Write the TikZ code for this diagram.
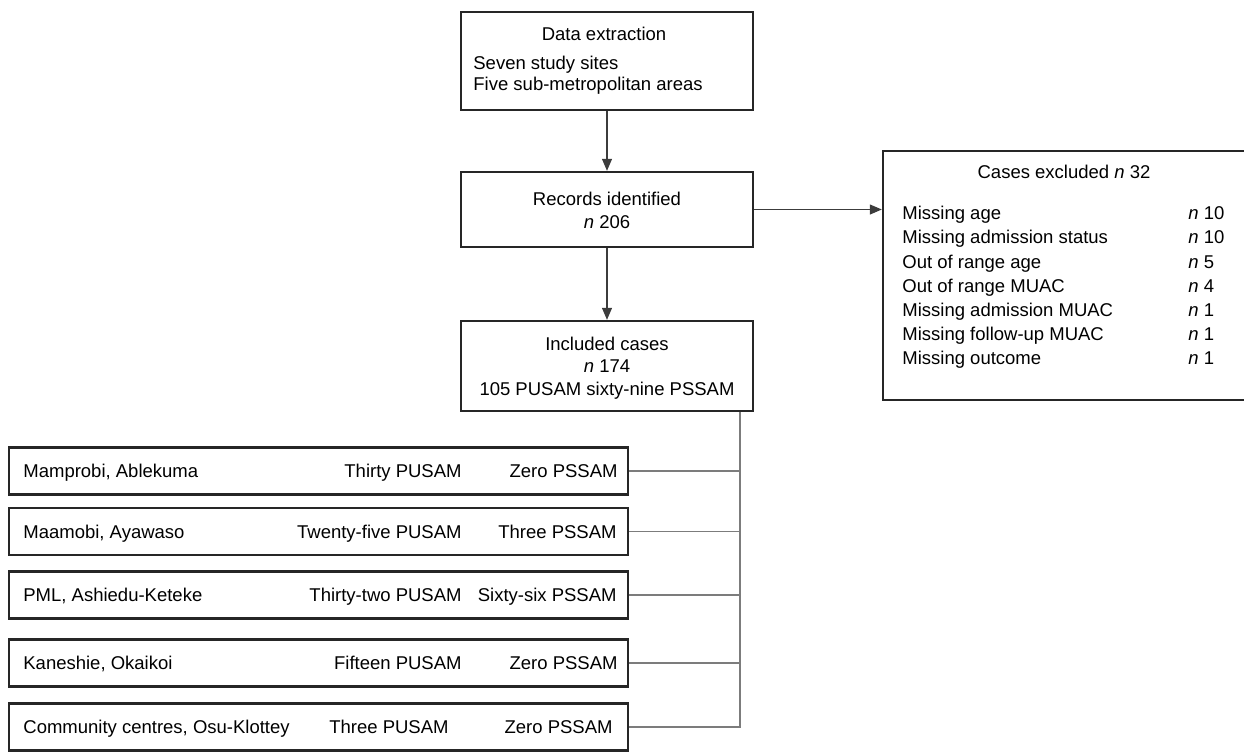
\documentclass[tikz,border=0pt]{standalone}
\usepackage{fontspec}
\setmainfont{Liberation Sans}
\usetikzlibrary{arrows.meta,positioning,calc}
\definecolor{frame}{HTML}{262626}
\definecolor{wire}{HTML}{7C7C7C}

\tikzset{
  box/.style={draw=frame,line width=1.2pt,fill=white,inner sep=0pt},
  txt/.style={inner sep=0pt,text height=6.6pt,text depth=0pt,
    font=\fontsize{9.25}{12}\selectfont},
  flow/.style={draw=frame!90,line width=.6pt,-{Triangle[length=6pt,width=5pt]}},
  wire/.style={draw=wire,line width=.75pt},
}

\begin{document}
\begin{tikzpicture}[x=0.5pt,y=-0.5pt]
 \useasboundingbox (0,0) rectangle (1244,751);
 % main column
 \node[box,minimum width=146pt,minimum height=49pt] (extract) at (607,61) {};
 \node[box,minimum width=146pt,minimum height=37.5pt] (records) at (607,209.5) {};
 \node[box,minimum width=146pt,minimum height=45pt] (incl) at (607,366) {};
 \node[box,minimum width=182pt,minimum height=124.5pt] (excluded) at (1065,275.5) {};
 \node[txt] (extracttitle) at (604,33.5) {Data extraction};
 \node[txt,anchor=west] (sites) at (473,62.5) {Seven study sites};
 \node[txt,anchor=west] (areas) at (473,83.5) {Five sub-metropolitan areas};
 \node[txt] (recordstitle) at (607,199) {Records identified};
 \node[txt] (recordsn) at (607,222) {\textit{n} 206};
 \node[txt] (incltitle) at (607,344) {Included cases};
 \node[txt] (incln) at (607,366) {\textit{n} 174};
 \node[txt] (inclsplit) at (607,389) {105 PUSAM sixty-nine PSSAM};
 % exclusions
 \node[txt] (excludedtitle) at (1064,172) {Cases excluded \textit{n} 32};
 \foreach \reason/\num [count=\i from 0] in {Missing age/10,Missing admission status/10,
   Out of range age/5,Out of range MUAC/4,Missing admission MUAC/1,
   Missing follow-up MUAC/1,Missing outcome/1}{
   \node[txt,anchor=west] (reason\i) at (902,213+24.2*\i) {\reason};
   \node[txt,anchor=west] (num\i) at (1188,213+24.2*\i) {\textit{n} \num};
 }
 % sites
 \foreach \k/\yy/\site/\pu/\pux/\ps/\psx in {
   1/471/{Mamprobi, Ablekuma}/Thirty PUSAM/462/Zero PSSAM/618,
   2/531.5/{Maamobi, Ayawaso}/Twenty-five PUSAM/462/Three PSSAM/617,
   3/595/{PML, Ashiedu-Keteke}/Thirty-two PUSAM/462/Sixty-six PSSAM/617,
   4/663/{Kaneshie, Okaikoi}/Fifteen PUSAM/462/Zero PSSAM/618,
   5/727/{Community centres, Osu-Klottey}/Three PUSAM/449/Zero PSSAM/613}{
   \node[box,minimum width=309.5pt,minimum height=23.5pt] (site\k) at (318.5,\yy) {};
   \node[txt,anchor=west] (sitename\k) at (23,\yy) {\site};
   \node[txt,anchor=east] (pusam\k) at (\pux,\yy) {\pu};
   \node[txt,anchor=east] (pssam\k) at (\psx,\yy) {\ps};
 }
 % connectors
 \draw[flow] (extract.south) -- (records.north);
 \draw[flow] (records.east) -- (records.east -| excluded.west);
 \draw[flow] (records.south) -- (incl.north);
 \coordinate (trunk) at ($(incl.south)+(133,0)$);
 \draw[wire] (trunk) |- (site5.east);
 \foreach \k in {1,...,4}
   \draw[wire] (site\k.east) -- (site\k.east -| trunk);
\end{tikzpicture}
\end{document}
